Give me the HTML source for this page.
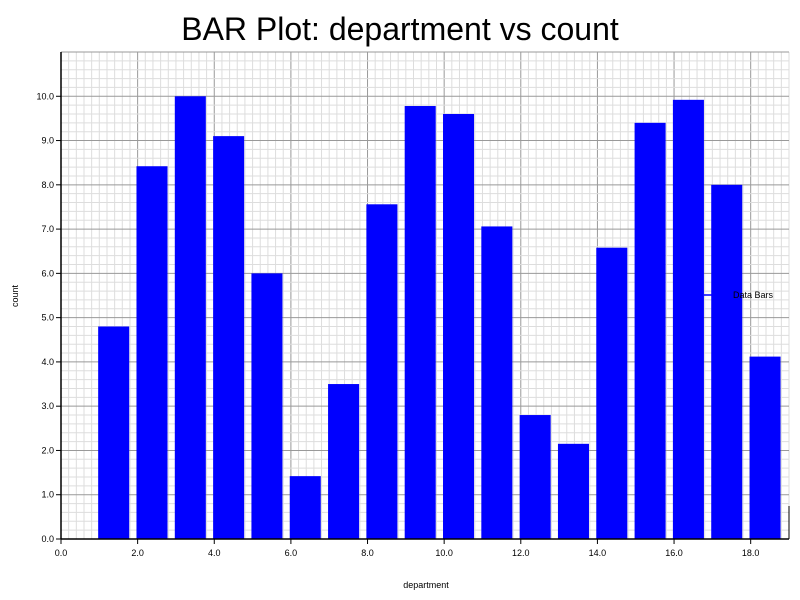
<!DOCTYPE html>
<html><head><meta charset="utf-8"><style>
html,body{margin:0;padding:0;background:#fff;}
svg{display:block;font-family:"Liberation Sans",sans-serif;}
</style></head><body>
<svg id="chart" width="800" height="600">
<text x="400" y="40" font-size="32" text-anchor="middle">BAR Plot: department vs count</text>
<g id="grid"></g><g id="bars"></g><g id="axes"></g>
<text x="426" y="588" font-size="9" text-anchor="middle">department</text>
<text x="18" y="296" font-size="9" text-anchor="middle" transform="rotate(-90 18 296)">count</text>
<g>
<line x1="704" y1="295" x2="724" y2="295" stroke="#0000ff" stroke-width="1.5"></line>
<text x="733" y="298" font-size="9">Data Bars</text>
</g>
</svg>
<script>
const departments=[1,2,3,4,5,6,7,8,9,10,11,12,13,14,15,16,17,18];
const counts=[4.8,8.42,10.0,9.1,6.0,1.42,3.5,7.56,9.78,9.6,7.06,2.8,2.15,6.58,9.4,9.92,8.0,4.12];
const xTicks=[0,2,4,6,8,10,12,14,16,18];
const yTicks=[0,1,2,3,4,5,6,7,8,9,10];
const X0=61,X1=789,Y0=539,Y1=52,XMAX=19,YMAX=11;
const xs=v=>X0+v/XMAX*(X1-X0);
const ys=v=>Y0-v/YMAX*(Y0-Y1);
const NS="http://www.w3.org/2000/svg";
function mk(tag,attrs,parent){const e=document.createElementNS(NS,tag);for(const k in attrs)e.setAttribute(k,attrs[k]);parent.appendChild(e);return e;}
const grid=document.getElementById('grid'),bars=document.getElementById('bars'),axes=document.getElementById('axes');
for(let i=0;i<=XMAX*5;i++){const v=i/5;const major=i%10===0;
 const l=mk('line',{x1:xs(v),x2:xs(v),y1:Y1,y2:Y0,stroke:major?'#999':'#ddd','stroke-width':1},grid);
 
 }
for(let i=0;i<=YMAX*5;i++){const v=i/5;const major=i%5===0;
 const l=mk('line',{x1:X0,x2:X1,y1:ys(v),y2:ys(v),stroke:major?'#999':'#ddd','stroke-width':1},grid);
 
 }
departments.forEach((d,i)=>{
 const r=mk('rect',{x:xs(d-0.03),y:ys(counts[i]),width:xs(0.81)-xs(0),height:ys(0)-ys(counts[i]),fill:'#0000ff'},bars);
 
 
});
mk('line',{x1:X0,x2:X1,y1:Y0,y2:Y0,stroke:'#000','stroke-width':1.5},axes);
mk('line',{x1:X0,x2:X0,y1:Y1,y2:Y0,stroke:'#000','stroke-width':1.5},axes);
mk('line',{x1:X1,x2:X1,y1:506,y2:Y0,stroke:'#000','stroke-width':1},axes);
xTicks.forEach(t=>{
 mk('line',{x1:xs(t),x2:xs(t),y1:Y0,y2:Y0+5,stroke:'#000'},axes);
 const tx=mk('text',{x:xs(t),y:Y0+17,'font-size':9,'text-anchor':'middle'},axes);
 tx.textContent=t.toFixed(1);
 
 
});
yTicks.forEach(t=>{
 mk('line',{x1:X0-5,x2:X0,y1:ys(t),y2:ys(t),stroke:'#000'},axes);
 const tx=mk('text',{x:X0-7,y:ys(t)+3,'font-size':9,'text-anchor':'end'},axes);
 tx.textContent=t.toFixed(1);
 
 
});
</script>
</body></html>
